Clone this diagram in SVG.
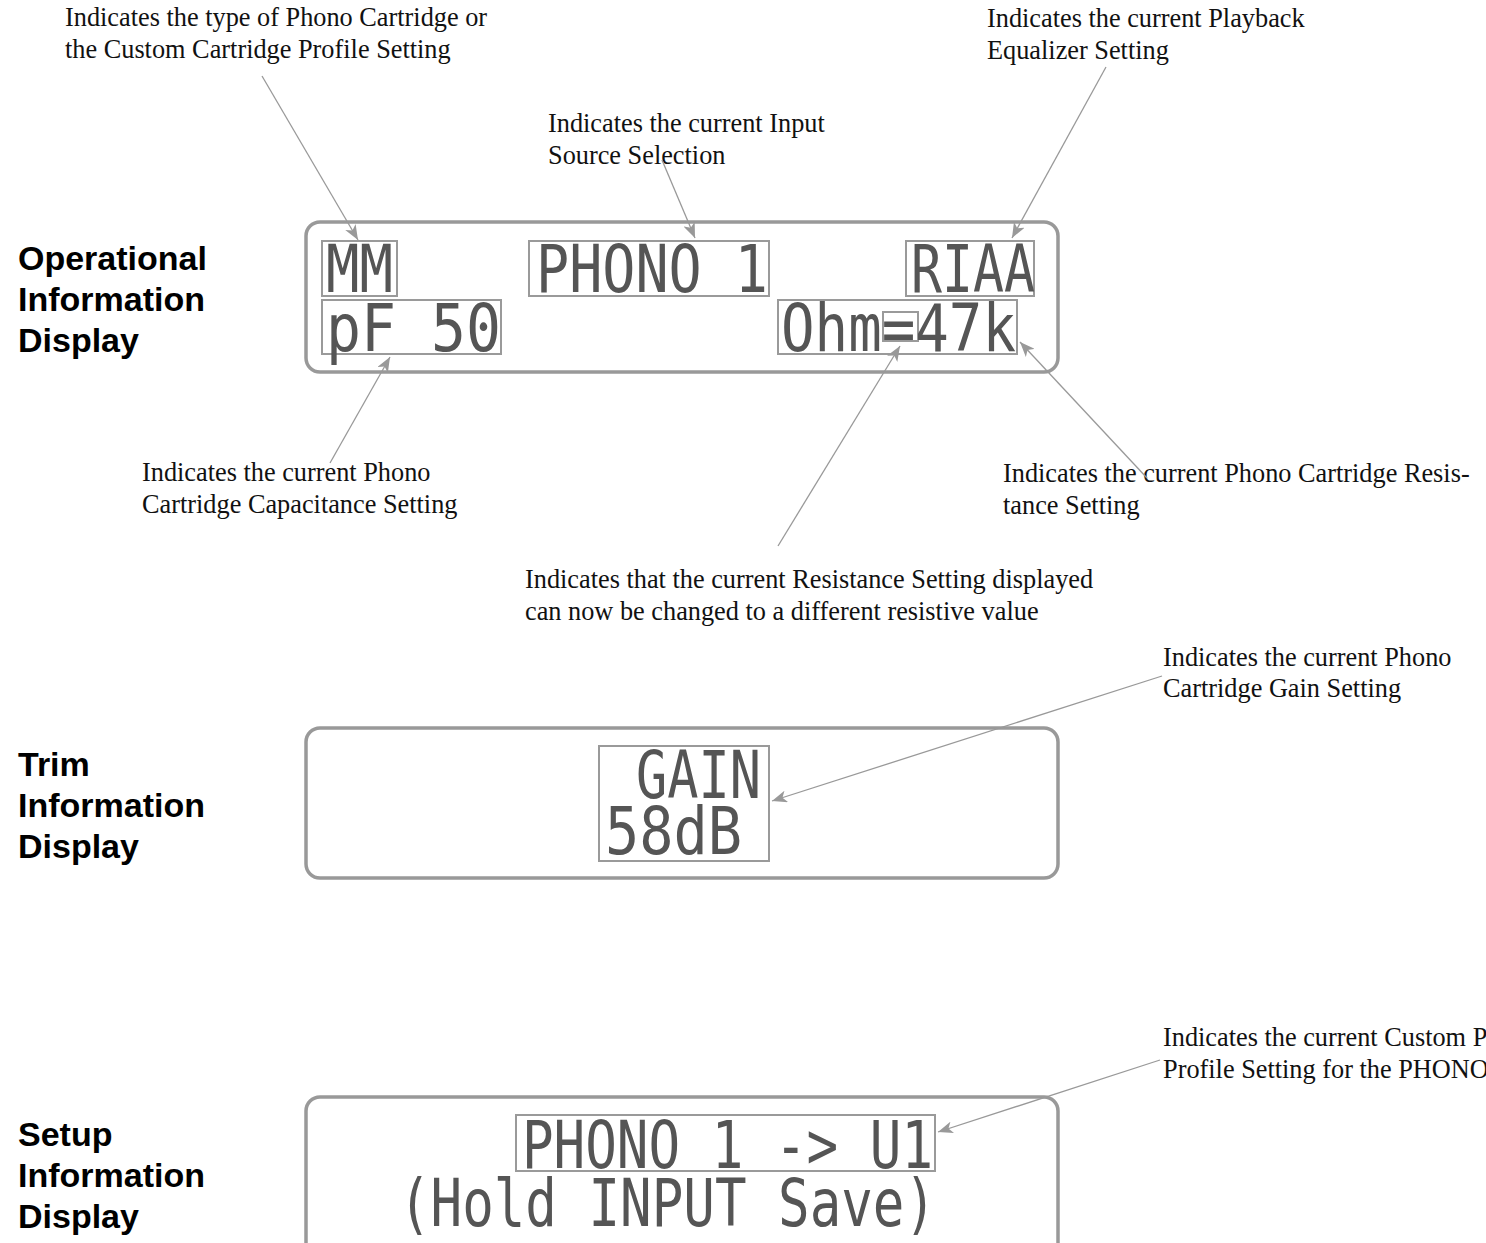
<svg xmlns="http://www.w3.org/2000/svg" width="1486" height="1243" viewBox="0 0 1486 1243">
<style>
.lbl{font-family:"Liberation Serif","Times New Roman",serif;font-size:26.3px;fill:#111}
.hd{font-family:"Liberation Sans",Arial,sans-serif;font-size:34px;font-weight:bold;fill:#000}
.lcd{font-family:"DejaVu Sans Mono","Liberation Mono",monospace;font-size:66px;fill:#555}
.disp{fill:none;stroke:#999;stroke-width:3.5}
.box{fill:none;stroke:#9a9a9a;stroke-width:2}
.con{stroke:#999;stroke-width:1.3;fill:none;marker-end:url(#ah)}
</style>
<defs>
<marker id="ah" markerUnits="userSpaceOnUse" markerWidth="16" markerHeight="12" refX="15" refY="6" orient="auto">
<path d="M0,0 L15,6 L0,12 L4,6 z" fill="#999"/>
</marker>
</defs>
<rect width="1486" height="1243" fill="#fff"/>
<g id="heading-operational">
<text class="hd" x="18" y="270">Operational</text>
<text class="hd" x="18" y="311">Information</text>
<text class="hd" x="18" y="352">Display</text>
</g>
<g id="heading-trim">
<text class="hd" x="18" y="776">Trim</text>
<text class="hd" x="18" y="817">Information</text>
<text class="hd" x="18" y="858">Display</text>
</g>
<g id="heading-setup">
<text class="hd" x="18" y="1146">Setup</text>
<text class="hd" x="18" y="1187">Information</text>
<text class="hd" x="18" y="1228">Display</text>
</g>
<g id="display-operational">
<rect class="disp" x="306" y="222" width="752" height="150" rx="14"/>
<rect class="box" x="322" y="241" width="75" height="55"/>
<rect class="box" x="529" y="241" width="240" height="55"/>
<rect class="box" x="906" y="241" width="128" height="55"/>
<rect class="box" x="322" y="300" width="179" height="54"/>
<rect class="box" x="778" y="300" width="239" height="54"/>
<rect class="box" x="883" y="312" width="35" height="29"/>
<text class="lcd" x="326" y="292" textLength="67" lengthAdjust="spacingAndGlyphs">MM</text>
<text class="lcd" x="536" y="292" textLength="232" lengthAdjust="spacingAndGlyphs">PHONO 1</text>
<text class="lcd" x="911" y="292" textLength="124" lengthAdjust="spacingAndGlyphs">RIAA</text>
<text class="lcd" x="326" y="351" textLength="175" lengthAdjust="spacingAndGlyphs">pF 50</text>
<text class="lcd" x="781" y="351" textLength="235" lengthAdjust="spacingAndGlyphs">Ohm=47k</text>
</g>
<g id="display-trim">
<rect class="disp" x="306" y="728" width="752" height="150" rx="14"/>
<rect class="box" x="599" y="746" width="170" height="115"/>
<text class="lcd" x="636" y="798" textLength="125" lengthAdjust="spacingAndGlyphs">GAIN</text>
<text class="lcd" x="605" y="854" textLength="137" lengthAdjust="spacingAndGlyphs">58dB</text>
</g>
<g id="display-setup">
<rect class="disp" x="306" y="1097" width="752" height="160" rx="14"/>
<rect class="box" x="516" y="1115" width="419" height="56"/>
<text class="lcd" x="522" y="1168" textLength="411" lengthAdjust="spacingAndGlyphs">PHONO 1 -&gt; U1</text>
<text class="lcd" x="399" y="1226" textLength="537" lengthAdjust="spacingAndGlyphs">(Hold INPUT Save)</text>
</g>
<g id="label-cartridge-type">
<text class="lbl" x="65" y="26">Indicates the type of Phono Cartridge or</text>
<text class="lbl" x="65" y="58">the Custom Cartridge Profile Setting</text>
</g>
<g id="label-input-source">
<text class="lbl" x="548" y="132">Indicates the current Input</text>
<text class="lbl" x="548" y="164">Source Selection</text>
</g>
<g id="label-equalizer">
<text class="lbl" x="987" y="27">Indicates the current Playback</text>
<text class="lbl" x="987" y="59">Equalizer Setting</text>
</g>
<g id="label-capacitance">
<text class="lbl" x="142" y="481">Indicates the current Phono</text>
<text class="lbl" x="142" y="513">Cartridge Capacitance Setting</text>
</g>
<g id="label-resistance">
<text class="lbl" x="1003" y="482">Indicates the current Phono Cartridge Resis-</text>
<text class="lbl" x="1003" y="514">tance Setting</text>
</g>
<g id="label-resistance-change">
<text class="lbl" x="525" y="588">Indicates that the current Resistance Setting displayed</text>
<text class="lbl" x="525" y="620">can now be changed to a different resistive value</text>
</g>
<g id="label-gain">
<text class="lbl" x="1163" y="666">Indicates the current Phono</text>
<text class="lbl" x="1163" y="697">Cartridge Gain Setting</text>
</g>
<g id="label-custom-profile">
<text class="lbl" x="1163" y="1046">Indicates the current Custom P</text>
<text class="lbl" x="1163" y="1078">Profile Setting for the PHONO</text>
</g>
<g id="connectors">
<line class="con" x1="262" y1="76" x2="358" y2="240"/>
<line class="con" x1="662" y1="160" x2="695" y2="238"/>
<line class="con" x1="1106" y1="67" x2="1012" y2="238"/>
<line class="con" x1="330" y1="463" x2="390" y2="357"/>
<line class="con" x1="778" y1="546" x2="900" y2="346"/>
<line class="con" x1="1147" y1="478" x2="1020" y2="342"/>
<line class="con" x1="1162" y1="676" x2="772" y2="801"/>
<line class="con" x1="1160" y1="1060" x2="938" y2="1132"/>
</g>
</svg>
